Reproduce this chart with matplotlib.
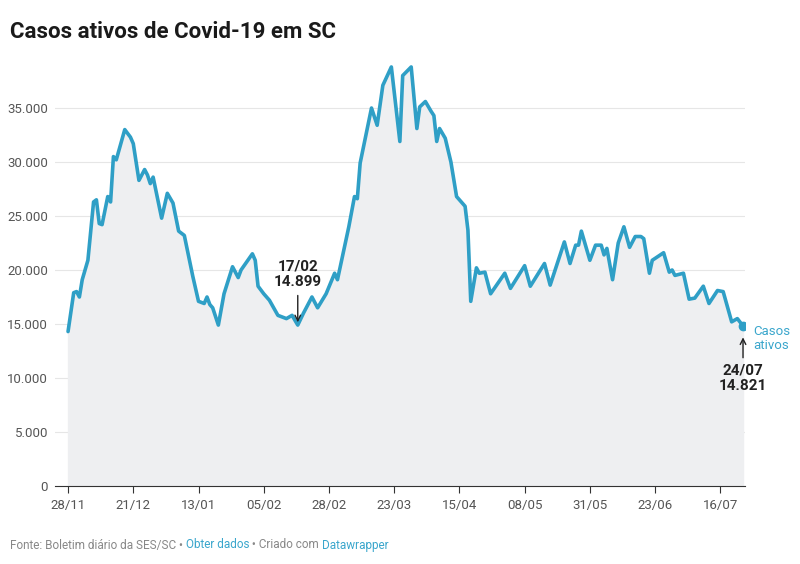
import matplotlib
matplotlib.use("Agg")
import matplotlib.pyplot as plt
import numpy as np

day_offsets = [0,2,3,4,5,7,9,10,11,12,14,15,16,17,20,22,23,25,27,28,29,30,33,35,37,39,41,44,46,48,49,50,51,53,55,58,60,61,65,66,67,69,71,74,77,79,81,83,86,88,91,94,95,99,101,102,103,107,109,111,114,117,118,121,123,124,126,128,129,130,131,133,135,137,140,141,142,144,145,147,149,154,156,161,163,168,170,175,177,179,180,181,184,186,188,189,190,192,194,196,198,200,202,203,205,206,210,212,213,214,217,219,221,224,226,229,231,234,236,238]
casos = [14300,17900,18000,17500,19100,20900,26300,26500,24300,24200,26800,26300,30500,30200,33000,32300,31700,28300,29300,28800,28000,28600,24800,27100,26200,23600,23200,19400,17100,16900,17500,16800,16500,14900,17800,20300,19300,20000,21500,20900,18500,17800,17200,15800,15500,15800,14899,16000,17500,16500,17800,19700,19100,24000,26800,26600,29900,35000,33400,37100,38800,31900,38000,38800,33100,35100,35600,34700,34300,31900,33100,32200,30000,26800,25900,23700,17100,20200,19700,19800,17800,19700,18300,20400,18500,20600,18600,22600,20600,22300,22300,23600,20900,22300,22300,21400,22000,19100,22500,24000,22100,23100,23100,22900,19700,20900,21600,19800,20000,19500,19700,17300,17400,18500,16900,18100,18000,15200,15500,14821]
tick_labels = ["28/11","21/12","13/01","05/02","28/02","23/03","15/04","08/05","31/05","23/06","16/07"]
y_ticks = [0,5000,10000,15000,20000,25000,30000,35000]

plt.rcParams['font.family'] = ['Roboto', 'DejaVu Sans']
W, H = 800, 564
fig = plt.figure(figsize=(8, 5.64), dpi=100)
fig.patch.set_facecolor('white')
ax = fig.add_axes([55/W, 1-486/H, 690/W, (486-54)/H])
x = np.array(day_offsets)
y = np.array(casos)
ax.fill_between(x, y, 0, color='#eeeff1', zorder=1)
ax.plot(x, y, color='#2f9fc6', lw=2.6, zorder=3, solid_joinstyle='round', solid_capstyle='round')
ax.plot([x[-1]], [y[-1]], 'o', color='#2f9fc6', ms=6, zorder=4)
ax.set_xlim(-4.6, 238.7)
ax.set_ylim(0, 40000)
for v in y_ticks[1:]:
    ax.axhline(v, color='#e6e6e6', lw=0.8, zorder=0)
for s in ['top','right','left']:
    ax.spines[s].set_visible(False)
ax.spines['bottom'].set_color('#333333')
ax.set_yticks(y_ticks)
ax.set_yticklabels([f"{v:,}".replace(",", ".") for v in y_ticks], color='#555555', fontsize=9.5)
ax.tick_params(axis='y', length=0, pad=5)
ax.set_xticks([23*i for i in range(len(tick_labels))])
ax.set_xticklabels(tick_labels, color='#555555', fontsize=9.5)
ax.tick_params(axis='x', length=5, color='#333333', pad=4)

i = day_offsets.index(81)
ax.annotate("", xy=(81, casos[i]), xytext=(81, casos[i]+3000),
            arrowprops=dict(arrowstyle='->', color='#222222', lw=1))
ax.text(81, casos[i]+3300, "17/02\n14.899", ha='center', va='bottom', fontsize=11,
        fontweight='bold', color='#222222', linespacing=1.15)
ax.annotate("", xy=(238, casos[-1]-800), xytext=(238, casos[-1]-3200),
            arrowprops=dict(arrowstyle='->', color='#222222', lw=1))
ax.text(238, casos[-1]-3500, "24/07\n14.821", ha='center', va='top', fontsize=11,
        fontweight='bold', color='#222222', linespacing=1.15)
ax.text(241.5, casos[-1]-1200, "Casos\nativos", ha='left', va='center', fontsize=9.5,
        color='#3aa6cc', clip_on=False, linespacing=1.1)

fig.text(10/W, 1-32/H, "Casos ativos de Covid-19 em SC", fontsize=16, fontweight='bold',
         color='#1a1a1a', va='center')
t1 = fig.text(10/W, 1-545/H, "Fonte: Boletim diário da SES/SC • ", fontsize=8.5, color='#888888', va='center')
fig.canvas.draw()
r = fig.canvas.get_renderer()
def after(t, s, c):
    bb = t.get_window_extent(r)
    return fig.text(bb.x1/W, 1-545/H, s, fontsize=8.5, color=c, va='center')
t2 = after(t1, "Obter dados", '#3aa6cc')
t3 = after(t2, " • Criado com ", '#888888')
t4 = after(t3, "Datawrapper", '#3aa6cc')
fig.savefig("out.png", dpi=100)
